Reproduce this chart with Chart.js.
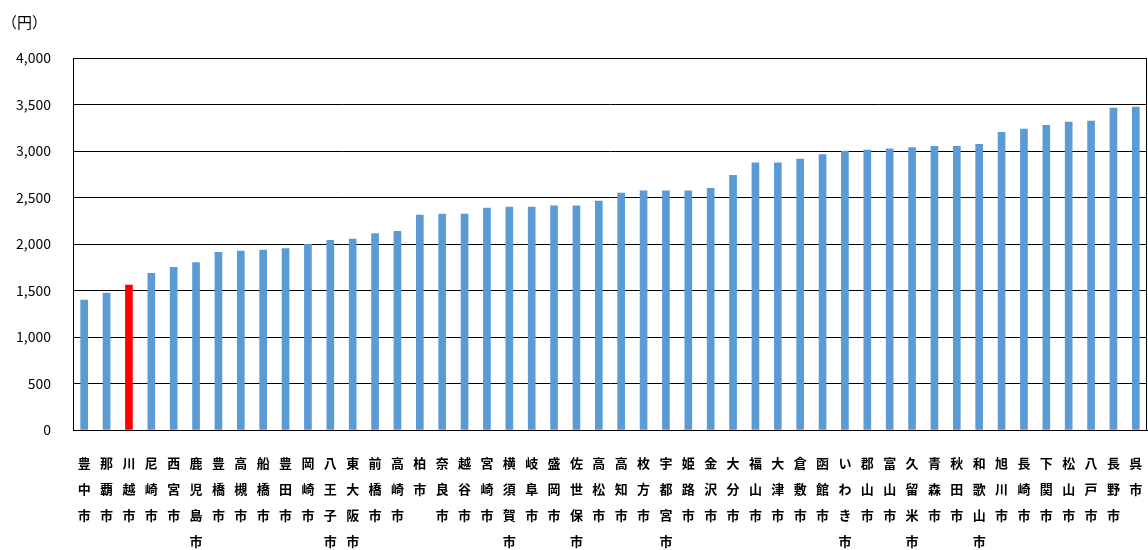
<!DOCTYPE html>
<html>
<head>
<meta charset="utf-8">
<script src="https://cdn.jsdelivr.net/npm/chart.js@4"></script>
<style>
  body { margin: 0; background: #fff; }
  #wrap { width: 1148px; height: 550px; }
</style>
</head>
<body>
<div id="wrap"><canvas id="myChart"></canvas></div>
<script>
// cities, sorted low -> high
const cities = ['豊中市', '那覇市', '川越市', '尼崎市', '西宮市', '鹿児島市', '豊橋市', '高槻市', '船橋市', '豊田市',
  '岡崎市', '八王子市', '東大阪市', '前橋市', '高崎市', '柏市', '奈良市', '越谷市', '宮崎市', '横須賀市',
  '岐阜市', '盛岡市', '佐世保市', '高松市', '高知市', '枚方市', '宇都宮市', '姫路市', '金沢市', '大分市',
  '福山市', '大津市', '倉敷市', '函館市', 'いわき市', '郡山市', '富山市', '久留米市', '青森市', '秋田市',
  '和歌山市', '旭川市', '長崎市', '下関市', '松山市', '八戸市', '長野市', '呉市'];

const amounts = [1398, 1473, 1559, 1685, 1749, 1799, 1910, 1923, 1935, 1950,
  1997, 2040, 2054, 2111, 2137, 2312, 2323, 2323, 2387, 2398,
  2398, 2410, 2410, 2462, 2548, 2573, 2573, 2573, 2599, 2738,
  2873, 2873, 2912, 2961, 3000, 3011, 3022, 3036, 3050, 3050,
  3072, 3201, 3236, 3276, 3312, 3323, 3462, 3473];

const highlight = '川越市';
const yTicks = [0, 500, 1000, 1500, 2000, 2500, 3000, 3500, 4000];

const barColors = cities.map(c => c === highlight ? '#FF0000' : '#5B9BD5');
// labels are written top to bottom, one character per line
const verticalLabels = cities.map(c => c.split(''));

Chart.defaults.font.family = '"Noto Sans CJK JP", "Noto Sans", sans-serif';
Chart.defaults.color = '#000';

// unit label + box round the plot
const frame = {
  id: 'frame',
  afterDraw(chart) {
    const { ctx, chartArea: a } = chart;
    ctx.save();
    ctx.strokeStyle = '#000';
    ctx.lineWidth = 1;
    ctx.strokeRect(a.left + 0.5, a.top + 0.5, a.right - a.left - 1, a.bottom - a.top);
    ctx.fillStyle = '#000';
    ctx.font = '15px "Noto Sans CJK JP"';
    ctx.textBaseline = 'middle';
    ctx.fillText('（円）', 2, 22);
    ctx.restore();
  }
};

const ctx = document.getElementById('myChart').getContext('2d');
const myChart = new Chart(ctx, {
  type: 'bar',
  data: {
    labels: verticalLabels,
    datasets: [{
      data: amounts,
      backgroundColor: barColors,
      barThickness: 7,
    }],
  },
  options: {
    responsive: true,
    maintainAspectRatio: false,
    animation: false,
    layout: { padding: { top: 58, right: 1, left: 0, bottom: 0 } },
    plugins: {
      legend: { display: false },
      tooltip: { enabled: false },
    },
    scales: {
      x: {
        grid: { display: false, drawTicks: false },
        border: { color: '#000', width: 1 },
        ticks: {
          autoSkip: false,
          maxRotation: 0,
          minRotation: 0,
          padding: 20,
          font: { size: 13, weight: 'bold', lineHeight: 2 },
        },
        afterFit(scale) {
          scale.height = 120;
          scale.paddingLeft = 0;
          scale.paddingRight = 0;
        },
      },
      y: {
        min: 0,
        max: 4000,
        afterBuildTicks(scale) { scale.ticks = yTicks.map(v => ({ value: v })); },
        grid: { color: '#000', lineWidth: 1, drawTicks: false },
        border: { color: '#000', width: 1 },
        ticks: {
          padding: 22,
          font: { size: 14 },
          callback: v => v.toLocaleString('en-US'),
        },
        afterFit(scale) { scale.width = 73; },
      },
    },
  },
  plugins: [frame],
});
</script>
</body>
</html>
